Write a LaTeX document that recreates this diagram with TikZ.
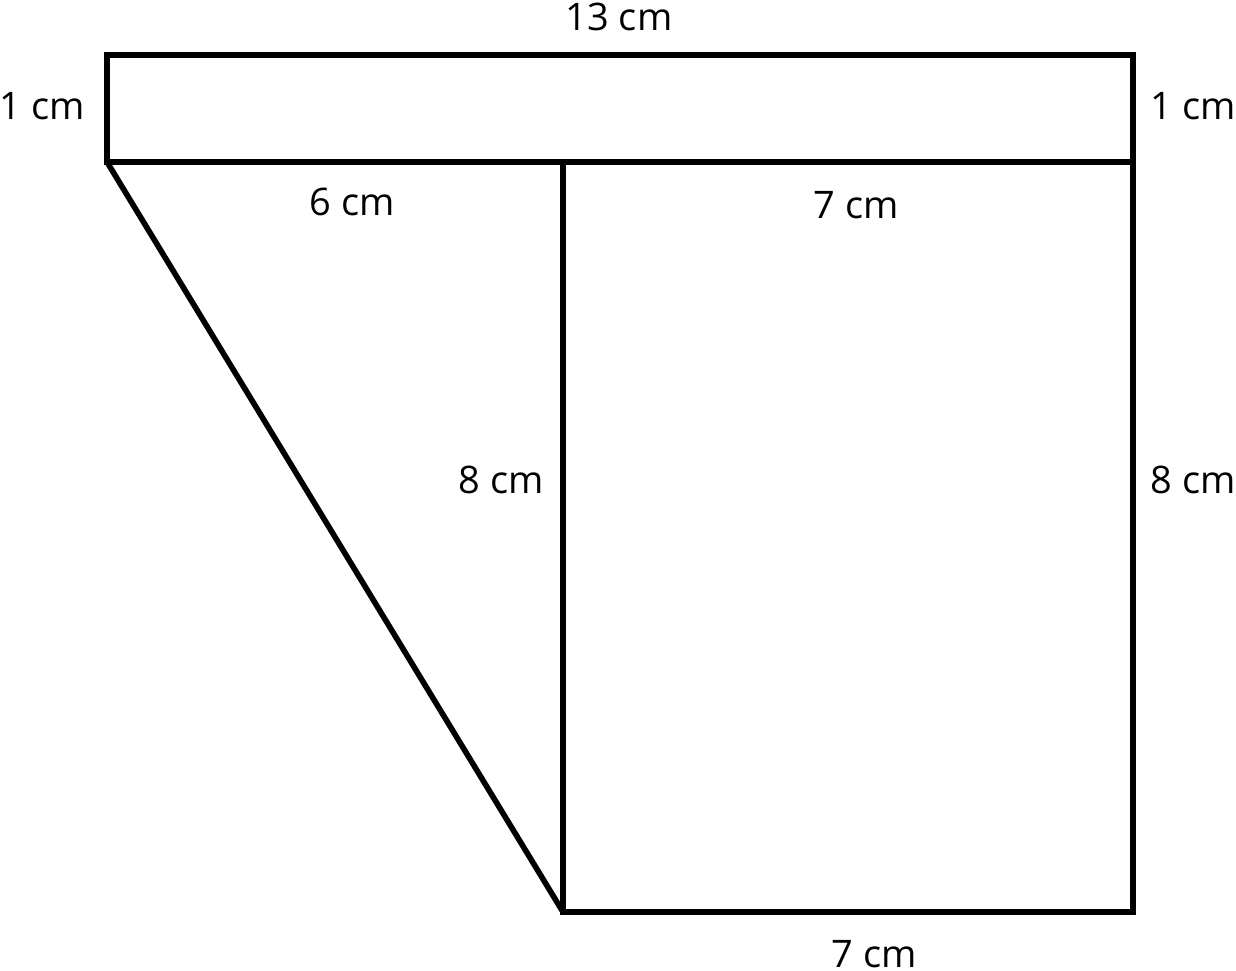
\documentclass[tikz,border=0pt]{standalone}
\usepackage{fontspec}
\setmainfont{Open Sans}
\begin{document}
\begin{tikzpicture}[line width=1.6pt,every node/.style={font=\fontsize{10.8}{13}\selectfont}]
\useasboundingbox (0,0) rectangle (12.36,-9.71);
\coordinate (v1) at (1.07,-0.55);
\coordinate (v2) at (11.33,-0.55);
\coordinate (v3) at (1.07,-1.62);
\coordinate (v4) at (5.63,-1.62);
\coordinate (v5) at (11.33,-1.62);
\coordinate (v6) at (5.63,-9.12);
\coordinate (v7) at (11.33,-9.12);

\draw (v1) -- (v2) -- (v5) -- (v3) -- cycle;
\draw (v4) -- (v6) -- (v7) -- (v5);
\draw (v3) -- (v6);

\node (l1) at (6.19,-0.17) {13 cm};
\node (l2) at (0.42,-1.06) {1 cm};
\node (l3) at (11.93,-1.06) {1 cm};
\node (l4) at (3.52,-2.02) {6 cm};
\node (l5) at (8.56,-2.05) {7 cm};
\node (l6) at (5.01,-4.80) {8 cm};
\node (l7) at (11.93,-4.80) {8 cm};
\node (l8) at (8.74,-9.54) {7 cm};
\end{tikzpicture}
\end{document}
